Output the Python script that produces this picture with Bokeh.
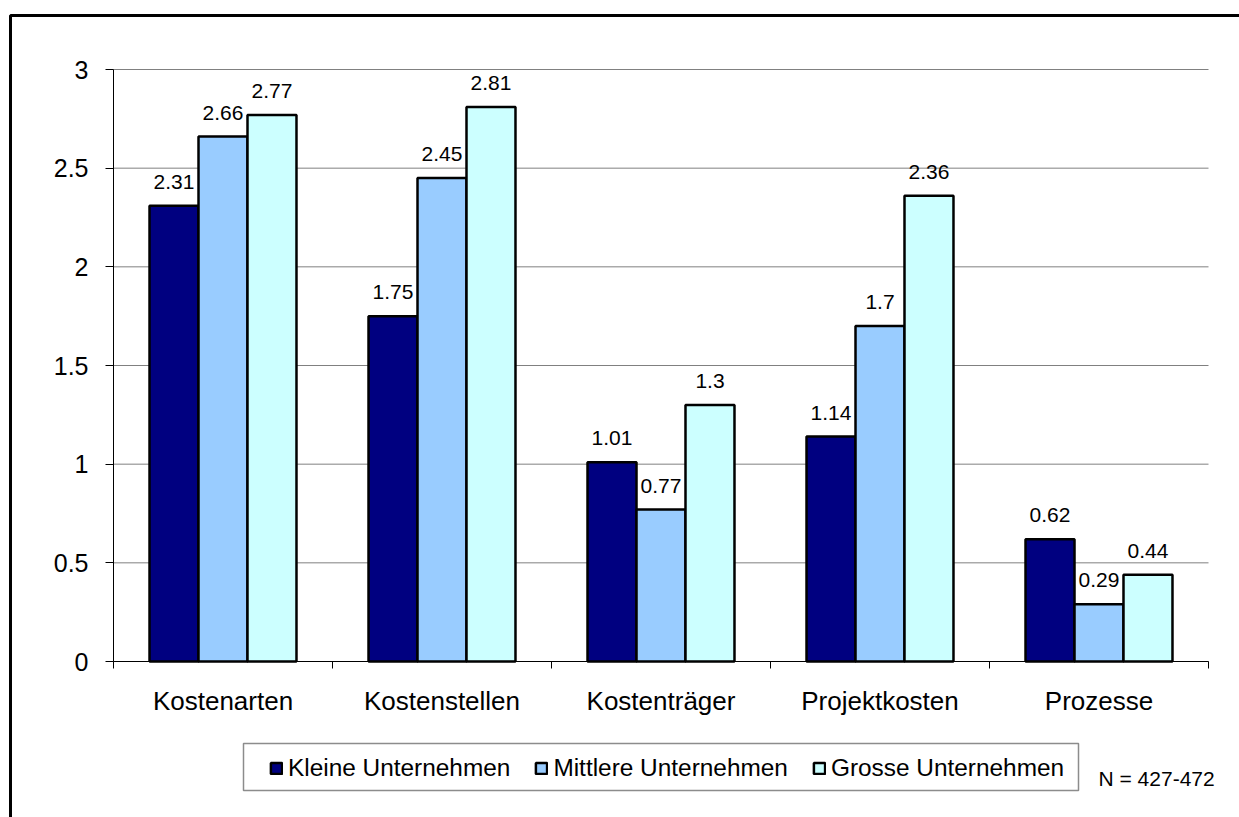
import numpy as np
from bokeh.plotting import figure
from bokeh.models import (Range1d, FixedTicker, NumeralTickFormatter, Legend,
                          LegendItem, BoxAnnotation, Label, ColumnDataSource)
from bokeh.core.properties import value
from bokeh.embed import file_html
from bokeh.resources import INLINE

# Kostenrechnungssysteme nach Unternehmensgrösse
categories = ["Kostenarten", "Kostenstellen", "Kostenträger", "Projektkosten", "Prozesse"]
kleine = [2.31, 1.75, 1.01, 1.14, 0.62]
mittlere = [2.66, 2.45, 0.77, 1.70, 0.29]
grosse = [2.77, 2.81, 1.30, 2.36, 0.44]
series_names = ["Kleine Unternehmen", "Mittlere Unternehmen", "Grosse Unternehmen"]
series_colors = ["#000080", "#99CCFF", "#CCFFFF"]
y_ticks = [0, 0.5, 1, 1.5, 2, 2.5, 3]
note_text = "N = 427-472"

FONT = "Liberation Sans"
BAR_W = 0.2237

# page size and the pixel box of the value area
W, H = 1239, 817
PLOT_LEFT, PLOT_RIGHT, PLOT_TOP, PLOT_BOTTOM = 113, 1208, 69, 661

n = len(categories)
y_max = y_ticks[-1]
ux = (PLOT_RIGHT - PLOT_LEFT) / n
uy = (PLOT_BOTTOM - PLOT_TOP) / y_max
x_range = Range1d(-PLOT_LEFT / ux, n + (W - PLOT_RIGHT) / ux)
y_range = Range1d(-(H - PLOT_BOTTOM) / uy, y_max + PLOT_TOP / uy)

# the frame covers the whole canvas so frame, legend box and note are not clipped
p = figure(width=W, height=H, x_range=x_range, y_range=y_range,
           output_backend="svg", toolbar_location=None, min_border=0)
p.outline_line_color = None
p.background_fill_color = "white"
p.border_fill_color = "white"
p.grid.visible = False

outer = BoxAnnotation(left=10, right=W + 50, top=15, bottom=H + 50,
                      left_units="canvas", right_units="canvas",
                      top_units="canvas", bottom_units="canvas",
                      fill_alpha=0, line_color="black", line_alpha=1, line_width=3)
legend_box = BoxAnnotation(left=243, right=1078, top=743, bottom=790,
                           left_units="canvas", right_units="canvas",
                           top_units="canvas", bottom_units="canvas",
                           fill_alpha=0, line_color="#8c8c8c", line_alpha=1, line_width=1.5)
p.add_layout(outer)
p.add_layout(legend_box)

# horizontal gridlines across the category span
p.segment(x0=0, x1=n, y0=y_ticks, y1=y_ticks, line_color="#808080", line_width=1,
          level="underlay")

centers = np.arange(n) + 0.5
offsets = [-BAR_W, 0.0, BAR_W]
renderers = []
for vals, color, off in zip([kleine, mittlere, grosse], series_colors, offsets):
    src = ColumnDataSource(dict(x=centers + off, top=vals, label=[f"{v:g}" for v in vals]))
    r = p.vbar(x="x", top="top", bottom=0, width=BAR_W, source=src,
               fill_color=color, line_color="black", line_width=2.5)
    renderers.append(r)
    p.text(x="x", y="top", text="label", source=src, text_align="center",
           text_baseline="middle", y_offset=-24, text_font_size="21px",
           text_font=value(FONT), text_color="black")

# y axis at x = 0
p.yaxis.fixed_location = 0
p.yaxis.bounds = (0, y_max)
p.yaxis.ticker = FixedTicker(ticks=y_ticks)
p.yaxis.formatter = NumeralTickFormatter(format="0.[0]")
p.yaxis.major_label_text_font = FONT
p.yaxis.major_label_text_font_size = "25px"
p.yaxis.major_label_text_color = "black"
p.yaxis.major_tick_out = 8
p.yaxis.major_tick_in = 0
p.yaxis.major_tick_line_color = "black"
p.yaxis.minor_tick_line_color = None
p.yaxis.axis_line_color = "black"
p.yaxis.major_label_standoff = 17

# x axis at y = 0: labels at category centres, ticks at category boundaries
p.xaxis.fixed_location = 0
p.xaxis.bounds = (0, n)
p.xaxis.ticker = FixedTicker(ticks=list(centers), minor_ticks=list(range(n + 1)))
p.xaxis.major_label_overrides = {float(c): name for c, name in zip(centers, categories)}
p.xaxis.major_label_text_font = FONT
p.xaxis.major_label_text_font_size = "26px"
p.xaxis.major_label_text_color = "black"
p.xaxis.major_tick_out = 0
p.xaxis.major_tick_in = 0
p.xaxis.major_tick_line_color = None
p.xaxis.minor_tick_out = 7
p.xaxis.minor_tick_in = 0
p.xaxis.minor_tick_line_color = "black"
p.xaxis.axis_line_color = "black"
p.xaxis.major_label_standoff = 17

legend = Legend(items=[LegendItem(label=nm, renderers=[r]) for nm, r in zip(series_names, renderers)],
                orientation="horizontal", location=(269, 35), padding=0, spacing=24, margin=0,
                glyph_width=14, glyph_height=14, label_standoff=5,
                label_text_font=FONT, label_text_font_size="24.4px", label_text_color="black",
                border_line_color=None, background_fill_alpha=0)
p.add_layout(legend)

p.add_layout(Label(x=1098, y=778, x_units="canvas", y_units="canvas", text=note_text,
                   text_font=FONT, text_font_size="21px", text_baseline="middle",
                   text_color="black"))

open("out.html", "w").write(file_html(p, INLINE))
